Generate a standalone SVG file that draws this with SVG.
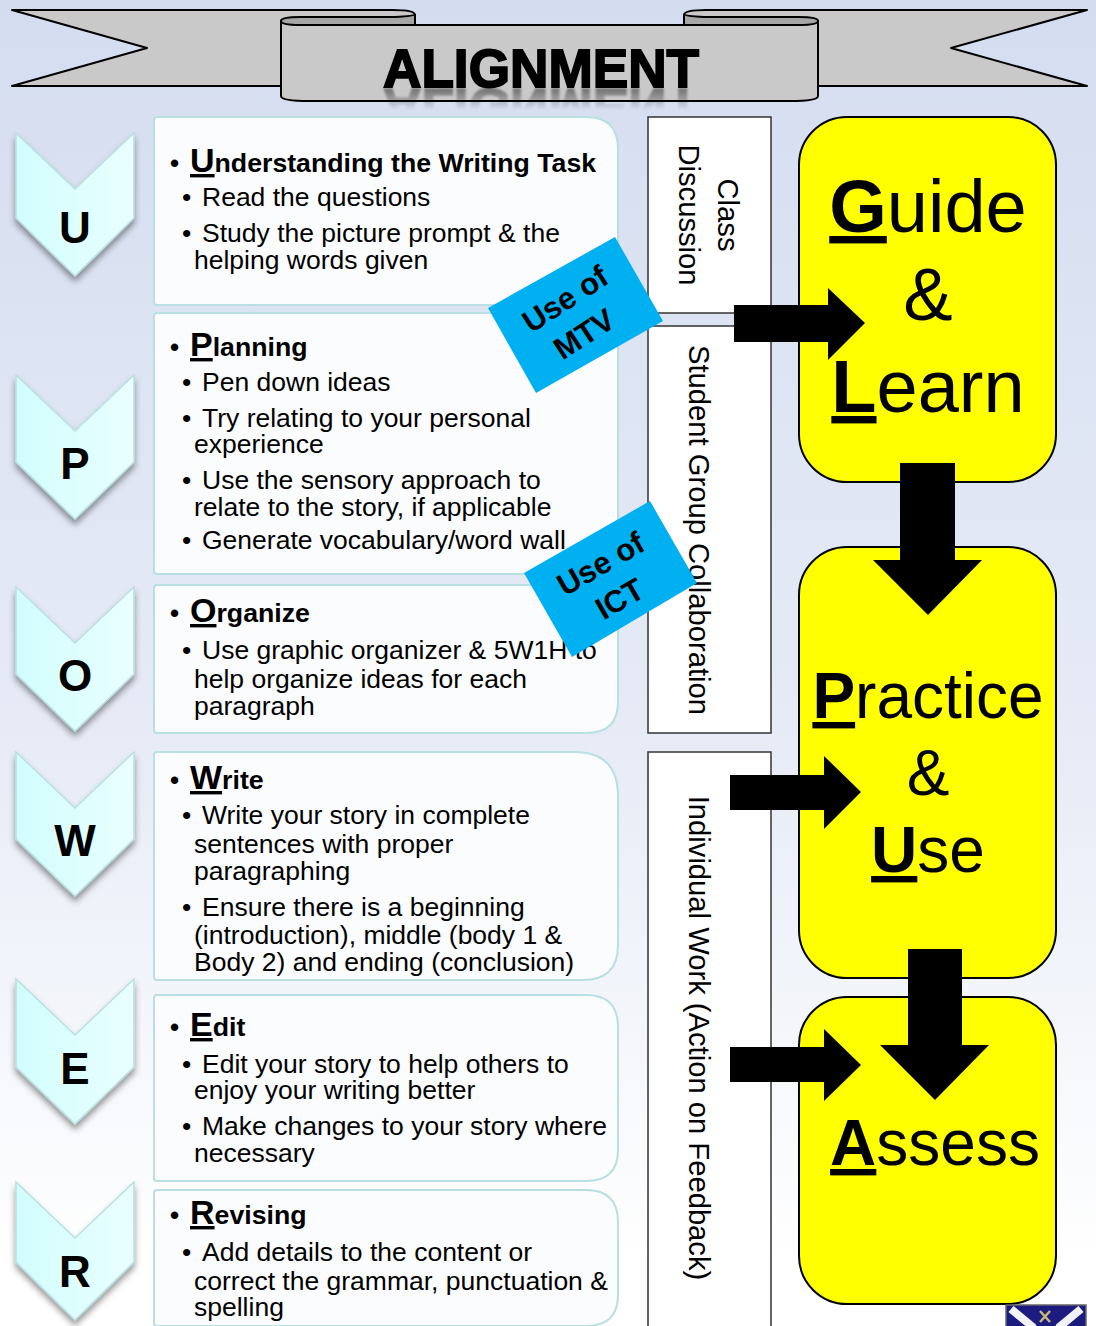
<svg xmlns="http://www.w3.org/2000/svg" width="1096" height="1326" viewBox="0 0 1096 1326">
<defs>
<linearGradient id="bg" x1="0" y1="0" x2="0" y2="1"><stop offset="0" stop-color="#d4ddf0"/><stop offset="0.55" stop-color="#e6ebf6"/><stop offset="0.95" stop-color="#ffffff"/></linearGradient>
<linearGradient id="chev" x1="0" y1="0" x2="1" y2="0"><stop offset="0" stop-color="#d2fdfd"/><stop offset="1" stop-color="#eaffff"/></linearGradient>
<filter id="sh" x="-20%" y="-20%" width="140%" height="140%"><feDropShadow dx="0" dy="5" stdDeviation="3" flood-color="#000" flood-opacity="0.4"/></filter>
<filter id="blur" x="-5%" y="-20%" width="110%" height="140%"><feGaussianBlur stdDeviation="1"/></filter>
<linearGradient id="fade" gradientUnits="userSpaceOnUse" x1="0" y1="88" x2="0" y2="110"><stop offset="0" stop-color="#fff" stop-opacity="0.45"/><stop offset="1" stop-color="#fff" stop-opacity="0"/></linearGradient>
<mask id="rm" maskUnits="userSpaceOnUse" x="370" y="86" width="350" height="30"><rect x="370" y="86" width="350" height="30" fill="url(#fade)"/></mask>
</defs>
<style>
text{font-family:"Liberation Sans",Arial,sans-serif;fill:#000}
.panel{fill:#fbfcfe;stroke:#b9dfe2;stroke-width:2}
.chev{fill:url(#chev);stroke:#b9e0e0;stroke-width:1.5;filter:url(#sh)}
.letter{font-size:44px;font-weight:bold;text-anchor:middle}
.h{font-size:26.7px;font-weight:bold}
.h tspan{font-size:34px;text-decoration:underline}
.hb{font-size:26px;font-weight:bold}
.b{font-size:26.5px}
.box{fill:#fff;stroke:#333;stroke-width:1.5}
.v{font-size:29.2px;text-anchor:middle}
.y{fill:#ff0;stroke:#000;stroke-width:2}
.big{text-anchor:middle}
.big tspan{font-weight:bold;text-decoration:underline}
.tag{fill:#00b0f0}
.tt{font-size:31px;font-weight:bold;text-anchor:middle}
.rb{fill:#c9c9c9;stroke:#000;stroke-width:2;stroke-linejoin:round}
.rb2{fill:#a6a6a6;stroke:#000;stroke-width:2}
</style>
<rect width="1096" height="1326" fill="url(#bg)"/>
<g id="banner">
<path class="rb" d="M12 10H393Q415 10 415 15V60H281V86H12L147 48Z"/>
<path class="rb" d="M1087 10H706Q684 10 684 15V60H818V86H1087L951 48Z"/>
<path class="rb2" d="M281 21Q281 17 300 17H395Q415 16 415 14V25H281Z"/>
<path class="rb2" d="M818 21Q818 17 799 17H704Q684 16 684 14V25H818Z"/>
<path class="rb" d="M281 21Q281 25 300 25H799Q818 25 818 21V96Q818 101 790 101H310Q281 101 281 96Z"/>
<g mask="url(#rm)"><text x="0" y="0" font-size="54" font-weight="bold" text-anchor="middle" stroke="#000" stroke-width="1.5" textLength="316" lengthAdjust="spacingAndGlyphs" filter="url(#blur)" transform="translate(541 89) scale(1 -1)">ALIGNMENT</text></g>
<text x="541" y="87" font-size="54" font-weight="bold" text-anchor="middle" stroke="#000" stroke-width="1.8" textLength="316" lengthAdjust="spacingAndGlyphs">ALIGNMENT</text>
</g>
<g id="chevron-u"><path class="chev" d="M16 133L75 189L134 133V218L75 276L16 218Z"/><text class="letter" x="75" y="243">U</text></g>
<g id="chevron-p"><path class="chev" d="M16 375L75 431L134 375V462L75 519L16 462Z"/><text class="letter" x="75" y="479">P</text></g>
<g id="chevron-o"><path class="chev" d="M16 587L75 643L134 587V674L75 731L16 674Z"/><text class="letter" x="75" y="691">O</text></g>
<g id="chevron-w"><path class="chev" d="M16 752L75 808L134 752V839L75 896L16 839Z"/><text class="letter" x="75" y="856">W</text></g>
<g id="chevron-e"><path class="chev" d="M16 979L75 1035L134 979V1067L75 1124L16 1067Z"/><text class="letter" x="75" y="1084">E</text></g>
<g id="chevron-r"><path class="chev" d="M16 1182L75 1238L134 1182V1262L75 1320L16 1262Z"/><text class="letter" x="75" y="1287">R</text></g>

<g id="panel-u"><path class="panel" d="M157 117H586Q618 117 618 149V305H157Q154 305 154 302V120Q154 117 157 117Z"/>
<text class="hb" x="170" y="172">•</text><text class="h" x="190" y="172"><tspan>U</tspan>nderstanding the Writing Task</text>
<text class="b" x="182" y="206">•</text><text class="b" x="202" y="206">Read the questions</text>
<text class="b" x="182" y="242">•</text><text class="b" x="202" y="242">Study the picture prompt &amp; the</text>
<text class="b" x="194" y="269">helping words given</text></g>
<g id="panel-p"><path class="panel" d="M157 313H618V574H157Q154 574 154 571V316Q154 313 157 313Z"/>
<text class="hb" x="170" y="356">•</text><text class="h" x="190" y="356"><tspan>P</tspan>lanning</text>
<text class="b" x="182" y="391">•</text><text class="b" x="202" y="391">Pen down ideas</text>
<text class="b" x="182" y="427">•</text><text class="b" x="202" y="427">Try relating to your personal</text>
<text class="b" x="194" y="453">experience</text>
<text class="b" x="182" y="489">•</text><text class="b" x="202" y="489">Use the sensory approach to</text>
<text class="b" x="194" y="516">relate to the story, if applicable</text>
<text class="b" x="182" y="549">•</text><text class="b" x="202" y="549">Generate vocabulary/word wall</text></g>
<g id="panel-o"><path class="panel" d="M157 585H618V702Q618 733 586 733H157Q154 733 154 730V588Q154 585 157 585Z"/>
<text class="hb" x="170" y="622">•</text><text class="h" x="190" y="622"><tspan>O</tspan>rganize</text>
<text class="b" x="182" y="659">•</text><text class="b" x="202" y="659">Use graphic organizer &amp; 5W1H to</text>
<text class="b" x="194" y="688">help organize ideas for each</text>
<text class="b" x="194" y="715">paragraph</text></g>
<g id="panel-w"><path class="panel" d="M157 752H574Q618 752 618 796V945Q618 980 583 980H157Q154 980 154 977V755Q154 752 157 752Z"/>
<text class="hb" x="170" y="789">•</text><text class="h" x="190" y="789"><tspan>W</tspan>rite</text>
<text class="b" x="182" y="824">•</text><text class="b" x="202" y="824">Write your story in complete</text>
<text class="b" x="194" y="853">sentences with proper</text>
<text class="b" x="194" y="880">paragraphing</text>
<text class="b" x="182" y="916">•</text><text class="b" x="202" y="916">Ensure there is a beginning</text>
<text class="b" x="194" y="944">(introduction), middle (body 1 &amp;</text>
<text class="b" x="194" y="971">Body 2) and ending (conclusion)</text></g>
<g id="panel-e"><path class="panel" d="M157 995H586Q618 995 618 1027V1150Q618 1181 586 1181H157Q154 1181 154 1178V998Q154 995 157 995Z"/>
<text class="hb" x="170" y="1036">•</text><text class="h" x="190" y="1036"><tspan>E</tspan>dit</text>
<text class="b" x="182" y="1073">•</text><text class="b" x="202" y="1073">Edit your story to help others to</text>
<text class="b" x="194" y="1099">enjoy your writing better</text>
<text class="b" x="182" y="1135">•</text><text class="b" x="202" y="1135">Make changes to your story where</text>
<text class="b" x="194" y="1162">necessary</text></g>
<g id="panel-r"><path class="panel" d="M157 1190H586Q618 1190 618 1222V1295Q618 1326 586 1326H157Q154 1326 154 1323V1193Q154 1190 157 1190Z"/>
<text class="hb" x="170" y="1224">•</text><text class="h" x="190" y="1224"><tspan>R</tspan>evising</text>
<text class="b" x="182" y="1261">•</text><text class="b" x="202" y="1261">Add details to the content or</text>
<text class="b" x="194" y="1290">correct the grammar, punctuation &amp;</text>
<text class="b" x="194" y="1316">spelling</text></g>

<g id="side-class"><rect class="box" x="648" y="117" width="123" height="196"/>
<text class="v" transform="translate(718 215) rotate(90)">Class</text>
<text class="v" transform="translate(679 215) rotate(90)">Discussion</text></g>
<g id="side-group"><rect class="box" x="648" y="326" width="123" height="407"/>
<text class="v" transform="translate(689 530) rotate(90)">Student Group Collaboration</text></g>
<g id="side-individual"><rect class="box" x="648" y="752" width="123" height="580"/>
<text class="v" transform="translate(689 1038) rotate(90)">Individual Work (Action on Feedback)</text></g>

<g id="tag-mtv"><polygon class="tag" points="488,308 615,237 663,321 536,393"/>
<text class="tt" transform="translate(571 308) rotate(-33)">Use of</text>
<text class="tt" transform="translate(590 343) rotate(-33)">MTV</text></g>
<g id="tag-ict"><polygon class="tag" points="524,573 650,501 697,583 572,657"/>
<text class="tt" transform="translate(606 573) rotate(-30)">Use of</text>
<text class="tt" transform="translate(625 608) rotate(-30)">ICT</text></g>

<g id="node-guide"><rect class="y" x="799" y="117" width="257" height="365" rx="48"/>
<text class="big" x="928" y="232" font-size="74"><tspan>G</tspan>uide</text>
<text class="big" x="928" y="320" font-size="74">&amp;</text>
<text class="big" x="928" y="412" font-size="74"><tspan>L</tspan>earn</text></g>
<g id="node-practice"><rect class="y" x="799" y="547" width="257" height="431" rx="48"/>
<text class="big" x="928" y="718" font-size="64"><tspan>P</tspan>ractice</text>
<text class="big" x="928" y="795" font-size="64">&amp;</text>
<text class="big" x="928" y="872" font-size="64"><tspan>U</tspan>se</text></g>
<g id="node-assess"><rect class="y" x="799" y="997" width="257" height="307" rx="48"/>
<text class="big" x="935" y="1165" font-size="64"><tspan>A</tspan>ssess</text></g>

<g id="connectors" fill="#000">
<polygon points="734,305 828,305 828,288 865,323 828,360 828,342 734,342"/>
<polygon points="900,463 955,463 955,560 982,560 928,615 873,560 900,560"/>
<polygon points="730,775 824,775 824,756 861,792 824,829 824,810 730,810"/>
<polygon points="908,949 962,949 962,1045 989,1045 935,1100 880,1045 908,1045"/>
<polygon points="730,1047 824,1047 824,1029 861,1065 824,1101 824,1082 730,1082"/>
</g>
<g id="logo">
<rect x="1006" y="1305" width="80" height="22" fill="#1c1c80" stroke="#666" stroke-width="1.5"/>
<path d="M1011 1309L1034 1328M1081 1309L1058 1328" stroke="#f2f2fa" stroke-width="8" fill="none"/>
<path d="M1040 1311L1050 1322M1050 1311L1040 1322" stroke="#c8b878" stroke-width="2.5" fill="none"/>
</g>
</svg>
